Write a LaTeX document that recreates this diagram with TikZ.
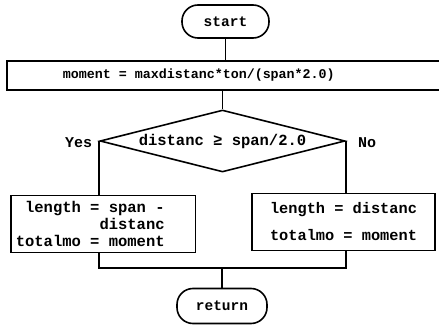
\documentclass[tikz,border=0pt]{standalone}
\usepackage{fontspec}
\setmonofont{Liberation Mono}
\usetikzlibrary{shapes.geometric}

\tikzset{
  flow/.style={line width=1.6pt, black},
  codefont/.style={font=\ttfamily\bfseries\fontsize{#1}{17}\selectfont},
  terminal/.style={flow, draw, rectangle, rounded corners=16pt, inner sep=0pt,
    codefont=14.5},
  procbox/.style={flow, draw, rectangle, inner sep=0pt},
  decision/.style={flow, draw, diamond, inner sep=0pt, aspect=3.95,
    codefont=15.5},
  branchlabel/.style={codefont=15, inner sep=0pt, anchor=base west},
}

\begin{document}
\begin{tikzpicture}[x=1pt, y=-1pt]
  \useasboundingbox (0,0) rectangle (439,326);

  % terminals
  \node[terminal, minimum width=87pt, minimum height=33pt] (start) at (225.5,21.5) {start};
  \node[terminal, minimum width=90pt, minimum height=35pt] (ret) at (222,306) {return};

  % first assignment; its box is open on the right and runs off the page
  \node[flow, codefont=13.33, inner xsep=55pt, inner ysep=0pt, minimum height=27pt,
        anchor=west] (moment) at (7,75.5)
        {moment = maxdistanc*ton/(span*2.0)};
  \draw[flow] (moment.north -| 450,0) -- (moment.north west)
              -- (moment.south west) -- (moment.south -| 450,0);

  % test
  \node[decision, minimum width=245pt, minimum height=62pt] (dec) at (222.5,141)
        {distanc ≥ span/2.0};
  \node[branchlabel] (yes) at (65,147) {Yes};
  \node[branchlabel] (no) at (358,147) {No};

  % branch bodies
  \node[procbox, font=\ttfamily\bfseries\fontsize{15.5}{17}\selectfont,
        inner xsep=5pt, align=left, minimum height=57pt, anchor=west]
        (lbox) at (10,224)
        {\hphantom{x}length = span -\\
         \hphantom{xxxxxxxxx}distanc\\
         totalmo = moment\hspace*{26pt}};
  \node[procbox, font=\ttfamily\bfseries\fontsize{15.3}{27}\selectfont,
        align=center, minimum width=183pt, minimum height=57pt]
        (rbox) at (343.5,222)
        {length = distanc\\totalmo = moment};

  % connectors
  \coordinate (join) at (222,268);
  \draw[flow] (start.south) -- (start.south |- moment.north);
  \draw[flow] (moment.south -| dec.north) -- (dec.north);
  \draw[flow] (dec.west) -- (dec.west |- lbox.north);
  \draw[flow] (dec.east) -- (dec.east |- rbox.north);
  \draw[flow] (lbox.south -| dec.west) |- (join);
  \draw[flow] (rbox.south -| dec.east) |- (join);
  \draw[flow] (join) -- (ret.north -| join);
\end{tikzpicture}
\end{document}
